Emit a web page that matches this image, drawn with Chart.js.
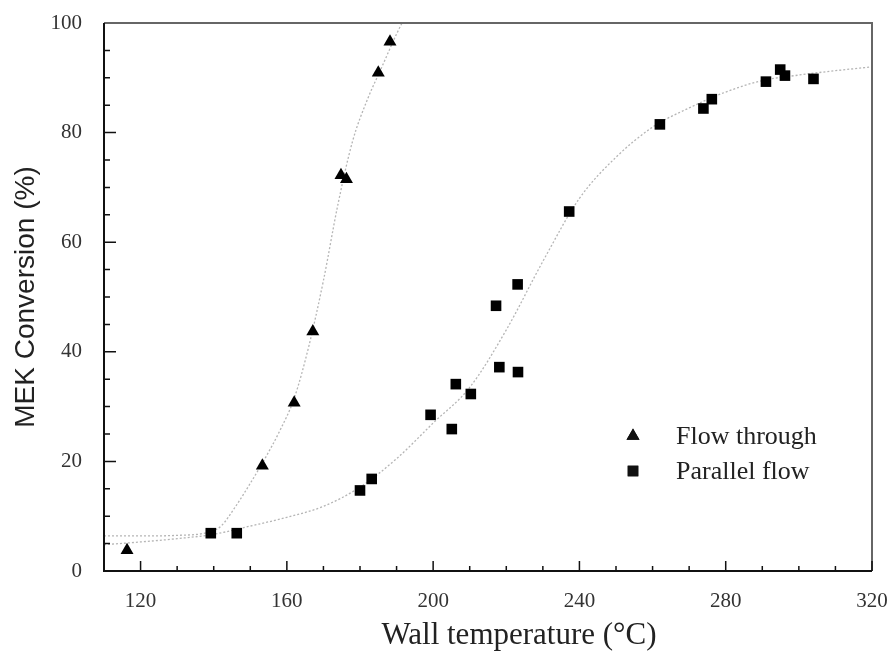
<!DOCTYPE html>
<html>
<head>
<meta charset="utf-8">
<title>MEK conversion vs wall temperature</title>
<script src="https://cdn.jsdelivr.net/npm/chart.js@4.4.1/dist/chart.umd.min.js"></script>
<style>
  body { margin: 0; background: #fff; }
  #wrap { width: 890px; height: 655px; }
</style>
</head>
<body>
<div id="wrap"><canvas id="chart" width="890" height="655"></canvas></div>
<script>
// ---- data ----
const flowThroughX = [116.3, 153.3, 162.0, 167.1, 174.8, 176.3, 185.0, 188.2];
const flowThroughY = [3.8, 19.2, 30.7, 43.7, 72.2, 71.5, 90.9, 96.6];

const parallelX = [139.2, 146.3, 180.0, 183.2, 199.3, 205.1, 206.2, 210.3, 217.2, 218.1,
                   223.1, 223.2, 237.2, 262.0, 273.9, 276.2, 291.0, 294.9, 296.2, 304.0];
const parallelY = [6.9, 6.9, 14.7, 16.8, 28.5, 25.9, 34.1, 32.3, 48.4, 37.2,
                   52.3, 36.3, 65.6, 81.5, 84.4, 86.1, 89.3, 91.5, 90.4, 89.8];

// dotted fit curves
const flowFitX = [110, 120, 130, 138, 142, 146, 150, 154, 158, 162, 166, 170, 174, 178, 182, 186, 190, 191.5];
const flowFitY = [6.4, 6.4, 6.5, 7.0, 8.2, 11.8, 16.0, 20.5, 25.5, 31.5, 41, 53, 67, 78.5, 86, 92, 98, 100];

const parallelFitX = [110, 120, 130, 140, 150, 160, 170, 180, 190, 200, 210, 220, 230, 240, 250, 260, 270, 280, 290, 300, 310, 320];
const parallelFitY = [4.8, 5.3, 5.9, 6.7, 8.2, 9.8, 11.8, 15.3, 20.5, 27, 33.5, 44, 56.5, 68, 75.5, 81, 84.5, 87.4, 89.5, 90.5, 91.3, 92.0];

// axes
const xTicks = [120, 160, 200, 240, 280, 320];
const yTicks = [0, 20, 40, 60, 80, 100];
const xMinorStep = 10;
const yMinorStep = 5;

const toPoints = (xs, ys) => xs.map((x, i) => ({ x: x, y: ys[i] }));

// ---- plugins ----
// frame and inward tick marks
const frameTicks = {
   id: "frameTicks",
   afterDatasetsDraw(chart) {
      const { ctx, chartArea: a, scales } = chart;
      const xs = scales.x, ys = scales.y;
      ctx.save();
      // top and right edges grey
      ctx.strokeStyle = "#666";
      ctx.lineWidth = 2;
      ctx.beginPath();
      ctx.moveTo(a.left, a.top);
      ctx.lineTo(a.right, a.top);
      ctx.lineTo(a.right, a.bottom);
      ctx.stroke();
      // bottom and left black
      ctx.strokeStyle = "#111";
      ctx.beginPath();
      ctx.moveTo(a.left, a.top);
      ctx.lineTo(a.left, a.bottom);
      ctx.lineTo(a.right, a.bottom);
      ctx.stroke();

      ctx.lineWidth = 1.5;
      ctx.beginPath();
      for (let v = xTicks[0] - xMinorStep; v <= xs.max; v += xMinorStep) {
         if (v <= xs.min) continue;
         const px = xs.getPixelForValue(v);
         const len = xTicks.includes(v) ? 10 : 5;
         ctx.moveTo(px, a.bottom);
         ctx.lineTo(px, a.bottom - len);
      }
      for (let v = ys.min + yMinorStep; v < ys.max; v += yMinorStep) {
         const py = ys.getPixelForValue(v);
         const len = yTicks.includes(v) ? 12 : 6;
         ctx.moveTo(a.left, py);
         ctx.lineTo(a.left + len, py);
      }
      ctx.stroke();
      ctx.restore();
   }
};

// legend inside the plot, lower right
const insideLegend = {
   id: "insideLegend",
   afterDraw(chart) {
      const { ctx } = chart;
      const items = chart.data.datasets.filter(d => d.showInLegend);
      ctx.save();
      ctx.font = "26px 'Liberation Serif'";
      ctx.textBaseline = "middle";
      items.forEach((d, i) => {
         const y = 436 + i * 35;
         Chart.helpers.drawPoint(ctx, {
            pointStyle: d.pointStyle, radius: d.pointRadius, borderWidth: 0, rotation: 0
         }, 633, y);
         ctx.fillStyle = "#111";
         ctx.fill();
         ctx.fillStyle = "#222";
         ctx.fillText(d.label, 676, y + 1);
      });
      ctx.restore();
   }
};

// ---- chart ----
new Chart(document.getElementById("chart"), {
   type: "scatter",
   data: {
      datasets: [
         {
            label: "Flow through",
            showInLegend: true,
            order: 1,
            data: toPoints(flowThroughX, flowThroughY),
            pointStyle: "triangle",
            pointRadius: 7.5,
            pointBackgroundColor: "#000",
            pointBorderWidth: 0
         },
         {
            label: "Parallel flow",
            showInLegend: true,
            order: 1,
            data: toPoints(parallelX, parallelY),
            pointStyle: "rect",
            pointRadius: 7.5,
            pointBackgroundColor: "#000",
            pointBorderWidth: 0
         },
         {
            label: "Flow through fit",
            order: 2,
            data: toPoints(flowFitX, flowFitY),
            showLine: true,
            borderColor: "#b5b5b5",
            borderWidth: 1.3,
            borderDash: [2, 2],
            pointRadius: 0,
            tension: 0.4,
            cubicInterpolationMode: "monotone"
         },
         {
            label: "Parallel flow fit",
            order: 2,
            data: toPoints(parallelFitX, parallelFitY),
            showLine: true,
            borderColor: "#b5b5b5",
            borderWidth: 1.3,
            borderDash: [2, 2],
            pointRadius: 0,
            tension: 0.4,
            cubicInterpolationMode: "monotone"
         }
      ]
   },
   options: {
      responsive: false,
      animation: false,
      layout: { padding: { left: 0, right: 18, top: 23, bottom: 0 } },
      plugins: { legend: { display: false }, tooltip: { enabled: false } },
      scales: {
         x: {
            type: "linear",
            min: 110,
            max: 320,
            grid: { display: false },
            border: { display: false },
            afterBuildTicks: s => { s.ticks = xTicks.map(v => ({ value: v })); },
            afterFit: s => { s.height = 84; s.paddingLeft = 0; s.paddingRight = 0; },
            ticks: {
               padding: 10,
               color: "#333",
               font: { family: "'Liberation Serif'", size: 21 }
            },
            title: {
               display: true,
               // en spaces nudge the centred title right, as in the original
               text: "\u2002\u2002\u2002\u2002Wall temperature (\u00B0C)",
               color: "#222",
               padding: { top: 0, bottom: 1 },
               font: { family: "'Liberation Serif'", size: 31, lineHeight: 1.2 }
            }
         },
         y: {
            type: "linear",
            min: 0,
            max: 100,
            grid: { display: false },
            border: { display: false },
            afterBuildTicks: s => { s.ticks = yTicks.map(v => ({ value: v })); },
            afterFit: s => { s.width = 104; s.paddingTop = 0; s.paddingBottom = 0; },
            ticks: {
               padding: 14,
               color: "#333",
               font: { family: "'Liberation Serif'", size: 21 }
            },
            title: {
               display: true,
               text: "MEK Conversion (%)",
               color: "#222",
               padding: { top: 9, bottom: 0 },
               font: { family: "'Liberation Sans'", size: 28, lineHeight: 1.2 }
            }
         }
      }
   },
   plugins: [frameTicks, insideLegend]
});
</script>
</body>
</html>
